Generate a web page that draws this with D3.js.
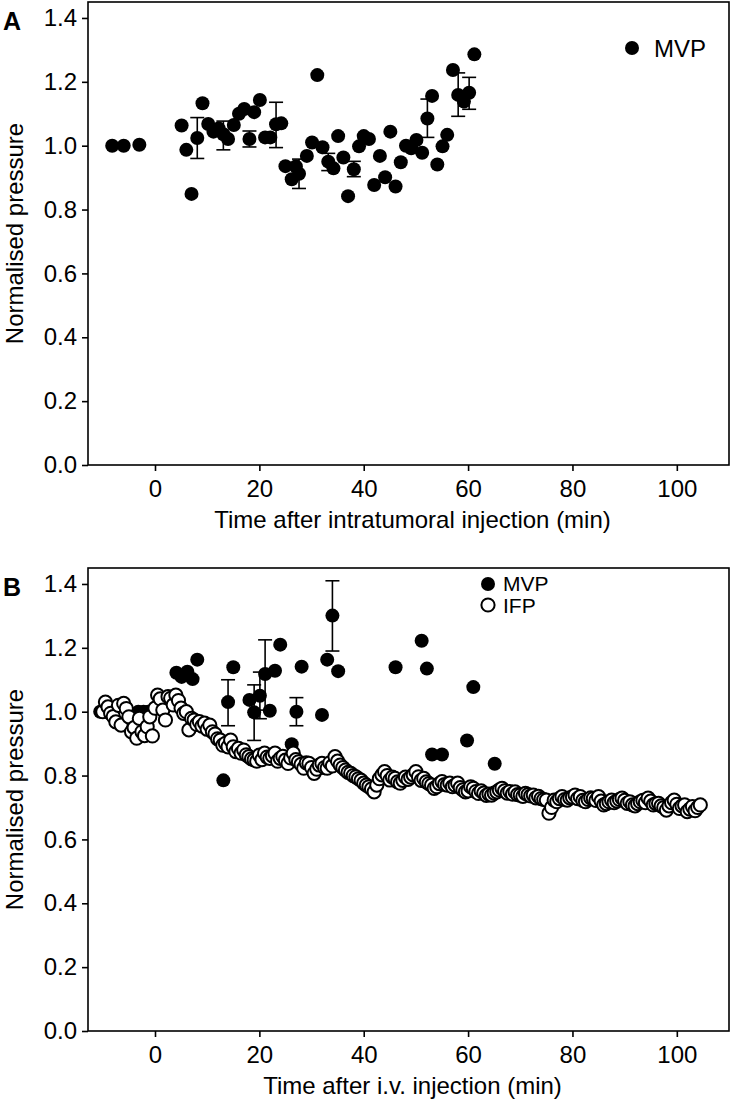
<!DOCTYPE html>
<html><head><meta charset="utf-8">
<script src="https://cdn.jsdelivr.net/npm/d3@7"></script>
<style>
html,body{margin:0;padding:0;background:#fff;}
svg text{font-family:"Liberation Sans",Arial,Helvetica,sans-serif;fill:#000;}
</style></head>
<body><svg id="chart" width="733" height="1105"></svg>
<script>
// ---------- DATA ----------
const xTicks = [0, 20, 40, 60, 80, 100];
const yTicks = [0, 0.2, 0.4, 0.6, 0.8, 1.0, 1.2, 1.4];

// Panel A: MVP after intratumoral injection
const mvpATime = [-8.2, -6.0, -3.0, 5.1, 6.0, 7.0, 8.1, 9.1, 10.2, 11.2, 12.2, 13.1, 14.0, 15.1, 16.1, 17.1, 18.1, 19.0, 20.1, 21.1, 22.1, 23.2, 24.2, 25.0, 26.2, 27.0, 27.6, 29.1, 30.1, 31.1, 32.1, 33.2, 34.2, 35.1, 36.1, 37.0, 38.1, 39.1, 40.0, 41.0, 42.0, 43.1, 44.1, 45.1, 46.1, 47.1, 48.1, 49.1, 50.1, 51.2, 52.2, 53.1, 54.1, 55.1, 56.0, 57.1, 58.1, 59.2, 60.2, 61.2];
const mvpAValue = [1.000, 1.000, 1.003, 1.063, 0.987, 0.849, 1.024, 1.133, 1.068, 1.044, 1.054, 1.036, 1.021, 1.065, 1.100, 1.115, 1.021, 1.105, 1.143, 1.026, 1.026, 1.067, 1.070, 0.936, 0.895, 0.935, 0.912, 0.968, 1.010, 1.221, 0.995, 0.950, 0.929, 1.030, 0.963, 0.842, 0.926, 0.998, 1.030, 1.021, 0.877, 0.968, 0.901, 1.044, 0.872, 0.948, 1.000, 0.992, 1.018, 0.978, 1.085, 1.156, 0.941, 0.998, 1.034, 1.237, 1.159, 1.138, 1.166, 1.286];
const errATime = [8.1, 13.1, 18.1, 23.2, 27.6, 33.2, 38.1, 52.2, 58.1, 60.2];
const errAValue = [1.024, 1.032, 1.021, 1.065, 0.912, 0.949, 0.927, 1.086, 1.160, 1.164];
const errASize = [0.064, 0.045, 0.025, 0.071, 0.046, 0.027, 0.024, 0.060, 0.068, 0.050];

// Panel B: MVP after i.v. injection
const mvpBTime = [-10.5, -3.2, -2.2, -1.3, 4.1, 5.1, 6.2, 7.2, 8.1, 13.1, 14.0, 15.0, 18.1, 19.0, 20.1, 21.1, 22.0, 23.0, 24.0, 26.2, 27.1, 28.1, 32.0, 33.0, 34.0, 35.1, 46.1, 51.1, 52.1, 53.1, 55.0, 59.8, 61.0, 65.1];
const mvpBValue = [1.000, 1.000, 1.000, 1.000, 1.122, 1.109, 1.125, 1.102, 1.163, 0.785, 1.030, 1.139, 1.037, 0.998, 1.050, 1.118, 1.003, 1.128, 1.210, 0.898, 1.000, 1.141, 0.990, 1.163, 1.301, 1.127, 1.139, 1.222, 1.135, 0.866, 0.866, 0.910, 1.077, 0.837];
const errBTime = [14.0, 19.0, 20.1, 21.1, 27.1, 34.0];
const errBValue = [1.028, 0.997, 1.051, 1.115, 1.000, 1.300];
const errBSize = [0.072, 0.087, 0.073, 0.110, 0.044, 0.110];

// Panel B: IFP after i.v. injection (every 0.5 min)
const ifpTime = [
 -10,-9.5,-9,-8.5,-8,-7.5,-7,-6.5,-6,-5.5,
 -5,-4.5,-4,-3.5,-3,-2.5,-2,-1.5,-1,-0.5,
 0,0.5,1,1.5,2,2.5,3,3.5,4,4.5,
 5,5.5,6,6.5,7,7.5,8,8.5,9,9.5,
 10,10.5,11,11.5,12,12.5,13,13.5,14,14.5,
 15,15.5,16,16.5,17,17.5,18,18.5,19,19.5,
 20,20.5,21,21.5,22,22.5,23,23.5,24,24.5,
 25,25.5,26,26.5,27,27.5,28,28.5,29,29.5,
 30,30.5,31,31.5,32,32.5,33,33.5,34,34.5,
 35,35.5,36,36.5,37,37.5,38,38.5,39,39.5,
 40,40.5,41,41.5,42,42.5,43,43.5,44,44.5,
 45,45.5,46,46.5,47,47.5,48,48.5,49,49.5,
 50,50.5,51,51.5,52,52.5,53,53.5,54,54.5,
 55,55.5,56,56.5,57,57.5,58,58.5,59,59.5,
 60,60.5,61,61.5,62,62.5,63,63.5,64,64.5,
 65,65.5,66,66.5,67,67.5,68,68.5,69,69.5,
 70,70.5,71,71.5,72,72.5,73,73.5,74,74.5,
 75,75.5,76,76.5,77,77.5,78,78.5,79,79.5,
 80,80.5,81,81.5,82,82.5,83,83.5,84,84.5,
 85,85.5,86,86.5,87,87.5,88,88.5,89,89.5,
 90,90.5,91,91.5,92,92.5,93,93.5,94,94.5,
 95,95.5,96,96.5,97,97.5,98,98.5,99,99.5,
 100,100.5,101,101.5,102,102.5,103,103.5,104,104.5];
const ifpValue = [
 1.000,1.030,1.015,0.995,0.985,0.968,1.020,0.958,1.026,1.010,
 0.984,0.937,0.950,0.917,0.979,0.937,0.925,0.953,0.984,0.924,
 1.011,1.052,1.040,1.005,0.974,1.047,1.042,1.021,1.052,1.035,
 1.011,0.995,1.000,0.943,0.979,0.974,0.960,0.969,0.955,0.964,
 0.945,0.958,0.937,0.930,0.915,0.911,0.895,0.901,0.890,0.911,
 0.890,0.875,0.885,0.870,0.880,0.865,0.859,0.852,0.849,0.845,
 0.864,0.850,0.870,0.858,0.854,0.862,0.870,0.845,0.854,0.860,
 0.848,0.838,0.855,0.870,0.850,0.843,0.835,0.823,0.840,0.838,
 0.825,0.807,0.820,0.833,0.838,0.825,0.823,0.840,0.830,0.859,
 0.845,0.833,0.825,0.817,0.810,0.807,0.800,0.796,0.790,0.785,
 0.776,0.770,0.765,0.758,0.749,0.770,0.790,0.802,0.812,0.800,
 0.786,0.795,0.791,0.780,0.776,0.785,0.795,0.788,0.795,0.802,
 0.812,0.796,0.785,0.791,0.780,0.775,0.770,0.760,0.765,0.775,
 0.781,0.772,0.770,0.776,0.765,0.770,0.776,0.762,0.755,0.749,
 0.752,0.765,0.760,0.750,0.744,0.752,0.745,0.738,0.742,0.739,
 0.745,0.749,0.755,0.760,0.752,0.745,0.750,0.742,0.749,0.740,
 0.739,0.735,0.744,0.740,0.736,0.739,0.730,0.735,0.728,0.725,
 0.723,0.682,0.700,0.723,0.718,0.728,0.734,0.725,0.723,0.730,
 0.733,0.739,0.728,0.734,0.722,0.718,0.725,0.730,0.728,0.722,
 0.734,0.720,0.708,0.712,0.718,0.723,0.715,0.720,0.725,0.729,
 0.722,0.713,0.718,0.708,0.705,0.712,0.718,0.722,0.715,0.729,
 0.720,0.708,0.712,0.713,0.705,0.700,0.692,0.705,0.715,0.723,
 0.710,0.697,0.705,0.708,0.687,0.695,0.703,0.690,0.700,0.708];

// ---------- LAYOUT ----------
const svg = d3.select("#chart");
const left = 88, right = 729;
const FS = 24;
const x = d3.scaleLinear().domain([-12.84, 110]).range([left, right]);

function panel(top, bottom, letter, xTitle) {
  const y = d3.scaleLinear().domain([0, 1.45]).range([bottom, top]);
  const g = svg.append("g");
  g.append("rect").attr("x", left).attr("y", top).attr("width", right - left).attr("height", bottom - top)
    .attr("fill", "none").attr("stroke", "#000").attr("stroke-width", 1.6);
  const ya = g.append("g").attr("transform", `translate(${left},0)`)
    .call(d3.axisLeft(y).tickValues(yTicks).tickFormat(d3.format(".1f")).tickSize(6).tickPadding(5));
  const xa = g.append("g").attr("transform", `translate(0,${bottom})`)
    .call(d3.axisBottom(x).tickValues(xTicks).tickFormat(d3.format("d")).tickSize(6).tickPadding(9));
  [ya, xa].forEach(a => {
    a.select(".domain").remove();
    a.selectAll("line").attr("stroke", "#000").attr("stroke-width", 1.6);
    a.selectAll("text").style("font-size", FS + "px").attr("fill", "#000");
  });
  g.append("text").attr("x", (left + right) / 2 + 4).attr("y", bottom + 63)
    .attr("text-anchor", "middle").style("font-size", FS + "px").text(xTitle);
  g.append("text").attr("transform", `translate(23,${(top + bottom) / 2}) rotate(-90)`)
    .attr("text-anchor", "middle").style("font-size", FS + "px").text("Normalised pressure");
  g.append("text").attr("x", 3).attr("y", top + 28).style("font-size", "25px").style("font-weight", "bold").text(letter);
  return {g, y};
}

function errorBars(g, y, ts, vs, es) {
  const eb = g.append("g");
  ts.forEach((t, i) => {
    const cx = x(t), y1 = y(vs[i] + es[i]), y0 = y(vs[i] - es[i]);
    eb.append("line").attr("x1", cx).attr("x2", cx).attr("y1", y1).attr("y2", y0).attr("stroke", "#000").attr("stroke-width", 1.6);
    eb.append("line").attr("x1", cx - 7).attr("x2", cx + 7).attr("y1", y1).attr("y2", y1).attr("stroke", "#000").attr("stroke-width", 1.6);
    eb.append("line").attr("x1", cx - 7).attr("x2", cx + 7).attr("y1", y0).attr("y2", y0).attr("stroke", "#000").attr("stroke-width", 1.6);
  });
}

// ---------- PANEL A ----------
const A = panel(2, 465, "A", "Time after intratumoral injection (min)");
errorBars(A.g, A.y, errATime, errAValue, errASize);
A.g.append("g").selectAll("circle").data(mvpATime).join("circle")
  .attr("cx", d => x(d)).attr("cy", (d, i) => A.y(mvpAValue[i])).attr("r", 7).attr("fill", "#000");
A.g.append("circle").attr("cx", 632).attr("cy", 48).attr("r", 7).attr("fill", "#000");
A.g.append("text").attr("x", 654).attr("y", 57).style("font-size", FS + "px").text("MVP");

// ---------- PANEL B ----------
const B = panel(568, 1031, "B", "Time after i.v. injection (min)");
errorBars(B.g, B.y, errBTime, errBValue, errBSize);
B.g.append("g").selectAll("circle").data(mvpBTime).join("circle")
  .attr("cx", d => x(d)).attr("cy", (d, i) => B.y(mvpBValue[i])).attr("r", 7).attr("fill", "#000");
B.g.append("g").selectAll("circle").data(ifpTime).join("circle")
  .attr("cx", d => x(d)).attr("cy", (d, i) => B.y(ifpValue[i])).attr("r", 6.6)
  .attr("fill", "#fff").attr("stroke", "#000").attr("stroke-width", 2);
B.g.append("circle").attr("cx", 488).attr("cy", 584).attr("r", 7).attr("fill", "#000");
B.g.append("text").attr("x", 503).attr("y", 591).style("font-size", "21px").text("MVP");
B.g.append("circle").attr("cx", 488).attr("cy", 605).attr("r", 6.6).attr("fill", "#fff").attr("stroke", "#000").attr("stroke-width", 2);
B.g.append("text").attr("x", 503).attr("y", 613).style("font-size", "21px").text("IFP");
</script></body></html>
